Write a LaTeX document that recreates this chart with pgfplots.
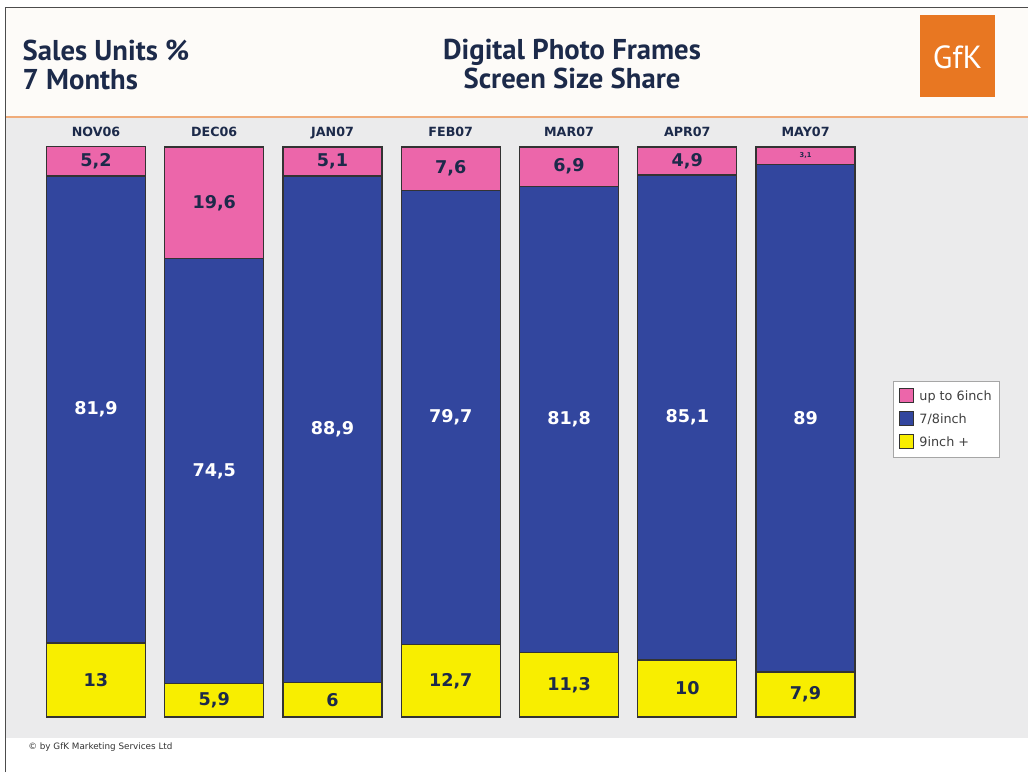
\documentclass[border=0pt]{standalone}
\usepackage{fontspec}
\setmainfont{DejaVu Sans}
\newfontfamily\ptsans{PT Sans}
\usepackage{pgfplots}
\pgfplotsset{compat=1.18}
\usepackage{pgfplotstable}
\definecolor{pinkc}{RGB}{236,102,170}
\definecolor{bluec}{RGB}{50,70,158}
\definecolor{yelc}{RGB}{248,238,0}
\definecolor{navy}{RGB}{28,42,74}
\definecolor{panel}{RGB}{235,235,236}
\definecolor{gfk}{RGB}{232,119,34}
\definecolor{orline}{RGB}{240,172,122}
\definecolor{hdr}{RGB}{253,251,248}

\pgfplotstableread{
x yel blue pink
0 13   81.9 5.2
1 5.9  74.5 19.6
2 6    88.9 5.1
3 12.7 79.7 7.6
4 11.3 81.8 6.9
5 10   85.1 4.9
6 7.9  89   3.1
}\data

\pgfplotstableread{
x yy    by    py    yl   bl   pl
0 6.5   53.95 97.5  13   81,9 5,2
1 2.95  43.15 90.2  5,9  74,5 19,6
2 3     50.45 97.45 6    88,9 5,1
3 6.35  52.55 96.2  12,7 79,7 7,6
4 5.65  52.2  96.55 11,3 81,8 6,9
5 5     52.55 97.55 10   85,1 4,9
6 3.95  52.4  98.45 7,9  89   3,1
}\labs

\begin{document}
\begin{tikzpicture}
\begin{scope}[x=0.75pt,y=-0.75pt]
\useasboundingbox (0,0) rectangle (1028,772);
\fill[white] (0,0) rectangle (1028,772);
\fill[hdr] (6,8) rectangle (1028,116);
\fill[panel] (6,118) rectangle (1028,738);
\draw[orline,line width=1.5pt] (6,116.5) -- (1028,116.5);
\draw[black!70,line width=0.8pt] (5.5,772) -- (5.5,7.5) -- (1028,7.5);
\fill[gfk] (920,15) rectangle (995,97);
\node[white,font=\ptsans\fontsize{24}{26}\selectfont] at (957.5,57) {GfK};
\node[anchor=west,text=navy,font=\ptsans\bfseries\fontsize{21.5}{21.5}\selectfont,align=left] at (18,65) {Sales Units \%\\7 Months};
\node[text=navy,font=\ptsans\bfseries\fontsize{21.5}{21.5}\selectfont,align=center] at (572,64) {Digital Photo Frames\\Screen Size Share};
\node[anchor=west,text=black!80,font=\fontsize{6.6}{7}\selectfont,inner sep=0pt] at (28,747) {\textcopyright\ by GfK Marketing Services Ltd};
\end{scope}

\begin{axis}[
  at={(22.5pt,-537.75pt)}, anchor=south west,
  scale only axis, width=630pt, height=427.5pt,
  xmin=-0.558, xmax=6.545, ymin=0, ymax=100,
  clip=false,
  ybar stacked, bar width=0.837,
  axis line style={draw=none},
  ytick=\empty,
  xtick={0,...,6},
  xticklabels={NOV06,DEC06,JAN07,FEB07,MAR07,APR07,MAY07},
  xticklabel pos=upper,
  major tick length=0pt,
  xticklabel style={font=\bfseries\fontsize{9.5}{10}\selectfont, text=navy, anchor=base, yshift=8pt},
  reverse legend,
  legend style={at={(1.0274,0.5895)}, anchor=north west, draw=black!35, fill=white,
    font=\fontsize{9.6}{11}\selectfont, text=black!75, row sep=4.5pt, inner xsep=4pt, inner ysep=5pt,
    nodes={inner sep=1.5pt},
    /tikz/every odd column/.append style={column sep=3pt}},
  legend cell align=left,
  legend image code/.code={\draw[#1,line width=0.6pt] (0pt,-4pt) rectangle (10.5pt,6.5pt);},
]
\addplot[fill=yelc, draw=black!80, line width=0.9pt] table[x=x,y=yel] {\data};
\addplot[fill=bluec, draw=black!80, line width=0.9pt] table[x=x,y=blue] {\data};
\addplot[fill=pinkc, draw=black!80, line width=0.9pt] table[x=x,y=pink] {\data};
\legend{9inch +,7/8inch,up to 6inch}
\end{axis}

\begin{axis}[
  at={(22.5pt,-537.75pt)}, anchor=south west,
  scale only axis, width=630pt, height=427.5pt,
  xmin=-0.558, xmax=6.545, ymin=0, ymax=100,
  clip=false, hide axis,
  nodes near coords, point meta=explicit symbolic,
  every node near coord/.append style={anchor=center, font=\bfseries\fontsize{13.2}{15}\selectfont},
]
\addplot[only marks, mark=none, every node near coord/.append style={text=navy}] table[x=x,y=yy,meta=yl] {\labs};
\addplot[only marks, mark=none, every node near coord/.append style={text=white}] table[x=x,y=by,meta=bl] {\labs};
\addplot[only marks, mark=none, skip coords between index={6}{7}, every node near coord/.append style={text=navy}] table[x=x,y=py,meta=pl] {\labs};
\addplot[only marks, mark=none, skip coords between index={0}{6}, every node near coord/.append style={text=navy, font=\bfseries\fontsize{5}{6}\selectfont}] table[x=x,y=py,meta=pl] {\labs};
\end{axis}
\end{tikzpicture}
\end{document}
